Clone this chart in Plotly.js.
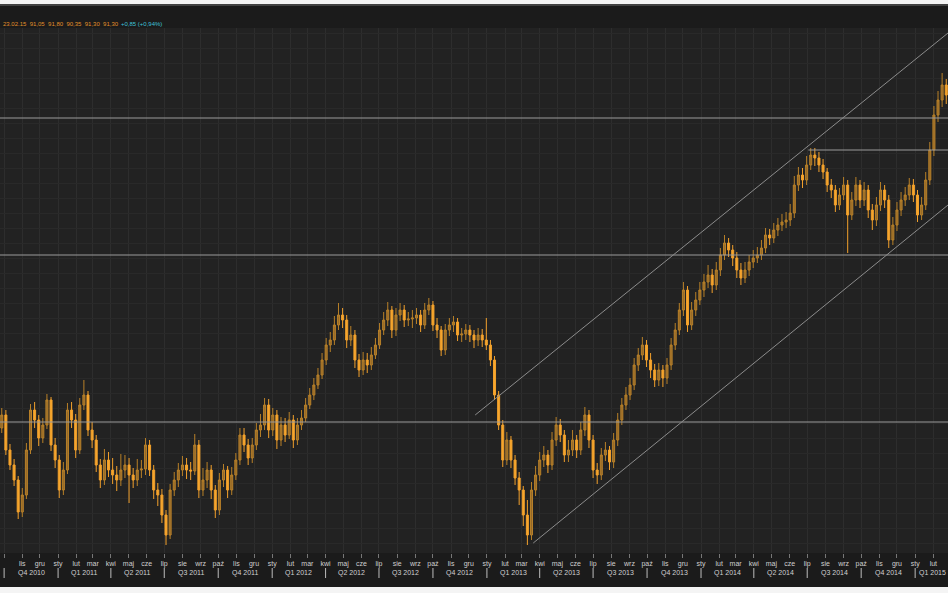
<!DOCTYPE html>
<html>
<head>
<meta charset="utf-8">
<script src="https://cdn.plot.ly/plotly-3.0.1.min.js"></script>
<style>
html,body{margin:0;padding:0;background:#1e1e1e;}
#chart{width:948px;height:593px;}
</style>
</head>
<body>
<div id="chart"></div>
<script>
// Weekly candles, first week starting 2010-09-27
const firstWeek = '2010-09-27';

const openVals = [
58.0,59.3,55.8,54.3,52.8,49.6,51.3,55.8,59.8,58.8,
57.0,58.3,60.8,56.3,54.8,51.8,53.8,59.8,58.8,55.8,
60.3,61.3,57.8,56.8,54.3,52.8,54.8,53.8,53.3,52.8,
53.8,54.3,53.3,52.8,53.8,53.9,56.3,53.8,51.8,51.3,
49.3,47.3,51.8,52.8,53.8,54.3,53.8,53.7,56.3,51.8,
52.8,53.8,51.8,49.8,52.8,53.8,51.8,53.3,54.8,57.3,
56.3,55.0,56.3,57.8,58.3,60.3,57.8,59.3,56.8,58.3,
57.3,58.8,56.8,58.3,59.0,60.3,61.3,62.3,63.3,64.8,
66.3,66.8,68.3,69.3,68.8,66.8,67.3,64.8,63.8,64.8,
64.3,65.3,66.3,67.8,68.8,69.8,67.8,69.3,69.8,68.8,
68.9,69.0,69.3,68.3,69.8,70.3,68.3,67.8,65.8,67.8,
68.3,68.6,67.3,67.4,67.8,67.3,66.8,67.3,66.8,66.3,
64.8,61.3,58.3,54.8,56.8,54.8,53.0,51.8,49.3,47.3,
51.8,53.3,54.8,55.3,54.3,56.8,58.3,57.3,55.3,55.8,
56.8,55.8,57.8,59.3,56.8,53.8,53.3,55.3,55.8,54.6,
56.8,58.8,60.3,61.3,62.3,64.3,65.3,66.3,64.8,63.8,
62.8,63.8,63.0,64.3,66.3,67.8,69.8,71.8,68.3,69.8,
70.8,71.8,72.6,73.3,72.3,73.8,75.3,76.5,75.8,75.0,
73.8,73.0,73.8,74.6,75.0,75.3,76.0,77.3,77.0,77.8,
78.3,78.6,78.8,79.5,82.3,83.3,82.8,84.3,85.3,85.0,
84.3,83.6,82.3,81.8,80.3,81.3,82.3,79.3,80.8,82.3,
80.8,81.8,79.8,78.8,80.3,81.8,80.8,76.8,78.3,79.8,
80.8,81.3,82.3,81.3,79.3,80.3,82.8,85.8,89.3,90.8,
92.3];

const closeVals = [
59.3,55.8,54.3,52.8,49.6,51.3,55.8,59.8,58.8,57.0,
58.3,60.8,56.3,54.8,51.8,53.8,59.8,58.8,55.8,60.3,
61.3,57.8,56.8,54.3,52.8,54.8,53.8,53.3,52.8,53.8,
54.3,53.3,52.8,53.8,53.9,56.3,53.8,51.8,51.3,49.3,
47.3,51.8,52.8,53.8,54.3,53.8,53.7,56.3,51.8,52.8,
53.8,51.8,49.8,52.8,53.8,51.8,53.3,54.8,57.3,56.3,
55.0,56.3,57.8,58.3,60.3,57.8,59.3,56.8,58.3,57.3,
58.8,56.8,58.3,59.0,60.3,61.3,62.3,63.3,64.8,66.3,
66.8,68.3,69.3,68.8,66.8,67.3,64.8,63.8,64.8,64.3,
65.3,66.3,67.8,68.8,69.8,67.8,69.3,69.8,68.8,68.9,
69.0,69.3,68.3,69.8,70.3,68.3,67.8,65.8,67.8,68.3,
68.6,67.3,67.4,67.8,67.3,66.8,67.3,66.8,66.3,64.8,
61.3,58.3,54.8,56.8,54.8,53.0,51.8,49.3,47.3,51.8,
53.3,54.8,55.3,54.3,56.8,58.3,57.3,55.3,55.8,56.8,
55.8,57.8,59.3,56.8,53.8,53.3,55.3,55.8,54.6,56.8,
58.8,60.3,61.3,62.3,64.3,65.3,66.3,64.8,63.8,62.8,
63.8,63.0,64.3,66.3,67.8,69.8,71.8,68.3,69.8,70.8,
71.8,72.6,73.3,72.3,73.8,75.3,76.5,75.8,75.0,73.8,
73.0,73.8,74.6,75.0,75.3,76.0,77.3,77.0,77.8,78.3,
78.6,78.8,79.5,82.3,83.3,82.8,84.3,85.3,85.0,84.3,
83.6,82.3,81.8,80.3,81.3,82.3,79.3,80.8,82.3,80.8,
81.8,79.8,78.8,80.3,81.8,80.8,76.8,78.3,79.8,80.8,
81.3,82.3,81.3,79.3,80.3,82.8,85.8,89.3,90.8,92.3,
91.3];

const highVals = [
60.0,59.8,56.4,54.9,53.2,52.0,56.5,60.4,60.6,59.3,
59.0,61.4,61.1,57.0,55.3,54.6,60.5,60.6,59.4,61.0,
62.8,61.7,58.6,57.3,54.9,55.9,55.6,55.0,54.2,55.4,
55.3,55.0,54.0,54.9,54.8,57.0,56.8,54.3,52.5,51.9,
49.8,52.4,53.6,54.5,55.2,55.0,54.6,57.4,56.8,54.0,
54.6,54.3,52.3,53.5,54.4,54.2,54.1,55.5,58.0,58.0,
56.9,57.0,58.5,59.4,61.0,60.9,60.0,59.8,59.1,59.0,
59.6,59.3,59.0,59.8,61.0,62.0,63.0,64.0,65.5,67.0,
67.6,69.2,70.5,70.0,69.3,68.2,67.8,65.4,65.6,65.5,
66.1,67.0,68.5,69.6,70.6,70.2,70.0,70.5,70.3,69.6,
69.8,70.0,69.8,70.5,71.0,70.7,69.0,68.2,68.4,69.0,
69.2,69.0,68.0,68.4,68.3,67.8,68.0,67.9,69.0,66.8,
65.2,61.7,58.8,57.6,57.2,55.3,53.6,52.2,50.8,52.6,
54.2,55.6,56.2,55.8,57.6,59.1,58.9,57.8,56.8,57.8,
57.3,58.6,60.1,59.8,57.3,54.5,56.0,56.6,56.2,57.5,
59.5,61.0,62.1,63.0,65.0,66.0,67.1,66.8,65.5,64.4,
64.5,64.3,65.0,67.0,68.5,70.5,72.6,72.2,70.6,71.6,
72.6,73.4,74.3,73.9,74.6,76.0,77.3,77.0,76.3,75.6,
74.5,74.6,75.3,75.8,76.1,76.8,78.0,77.9,78.5,79.0,
79.4,79.6,80.4,83.2,84.1,84.0,85.2,86.0,86.0,85.6,
84.9,84.0,82.9,82.3,82.0,83.1,82.8,81.6,83.1,82.8,
82.6,82.3,80.4,81.1,82.6,82.3,81.3,79.1,80.6,81.6,
82.1,83.0,82.9,81.8,81.1,83.6,86.6,90.2,91.7,93.5,
92.9];

const lowVals = [
57.5,55.3,53.8,52.2,48.9,49.1,50.9,55.4,58.0,56.2,
56.5,57.9,55.7,54.0,51.0,51.3,53.4,58.0,55.0,55.4,
59.8,57.2,56.0,53.6,52.0,52.3,53.1,52.4,51.7,52.2,
53.0,50.5,52.0,52.2,53.0,53.3,53.2,50.9,50.2,48.5,
46.3,46.9,51.2,52.1,53.2,52.9,52.8,53.3,51.0,51.2,
52.0,50.9,49.0,49.3,52.1,51.0,51.3,52.8,54.3,55.6,
54.3,54.5,55.8,57.1,57.8,57.0,57.2,55.9,56.2,56.6,
56.9,56.0,56.3,57.8,58.6,59.9,60.8,61.9,62.9,64.3,
65.6,66.3,67.8,68.0,66.0,66.2,64.0,63.1,63.3,63.5,
63.8,64.9,65.9,67.3,68.2,67.0,67.2,68.7,68.1,68.2,
68.0,68.4,67.6,67.9,69.3,67.7,67.0,65.2,65.3,67.2,
67.6,66.7,66.6,66.8,66.6,66.0,66.2,66.1,65.8,64.2,
60.8,57.8,54.1,54.3,54.0,52.3,50.3,48.2,46.3,46.8,
51.2,52.7,54.1,53.5,53.8,56.2,56.6,54.6,54.6,55.2,
55.0,55.3,57.2,56.0,53.0,52.4,52.8,54.7,53.8,54.0,
56.2,58.3,59.8,60.8,61.8,63.7,64.8,64.1,63.0,62.1,
62.2,62.1,62.4,63.8,65.8,67.3,69.2,67.6,67.8,69.2,
70.3,71.1,72.0,71.5,71.8,73.2,74.8,75.1,74.2,73.0,
72.3,72.5,73.2,74.0,74.5,74.8,75.5,76.3,76.5,77.2,
77.7,78.0,78.2,79.0,81.7,82.0,82.3,83.8,84.2,83.6,
82.9,81.6,81.0,79.6,79.8,80.8,75.5,78.8,80.2,80.0,
80.2,79.0,77.8,78.2,79.7,80.0,76.0,76.3,77.7,79.2,
80.2,80.8,80.6,78.6,78.8,79.8,82.3,85.2,88.6,90.1,
90.4];

// Polish month abbreviations and quarter labels for the time axis
const monthNames = ['sty','lut','mar','kwi','maj','cze','lip','sie','wrz','paź','lis','gru'];
const quarterLabels = ['Q4 2010','Q1 2011','Q2 2011','Q3 2011','Q4 2011','Q1 2012','Q2 2012','Q3 2012',
  'Q4 2012','Q1 2013','Q2 2013','Q3 2013','Q4 2013','Q1 2014','Q2 2014','Q3 2014','Q4 2014','Q1 2015'];
const quarterStarts = ['2010-10-01','2011-01-01','2011-04-01','2011-07-01','2011-10-01','2012-01-01','2012-04-01',
  '2012-07-01','2012-10-01','2013-01-01','2013-04-01','2013-07-01','2013-10-01','2014-01-01','2014-04-01',
  '2014-07-01','2014-10-01','2015-01-01','2015-04-01'];

// Drawn study lines (price levels and trend channel)
const levelLines = [89.0, 75.3, 58.6];
const shortLevel = {from: '2014-07-03', value: 85.8};
const channelUpper = {x0: '2012-12-12', y0: 59.3, x1: '2015-02-26', y1: 97.5};
const channelLower = {x0: '2013-03-21', y0: 46.5, x1: '2015-02-26', y1: 80.3};

const headerText = '23.02.15  91,05  91,80  90,35  91,30  91,30';
const headerChange = '+0,85 (+0,94%)';

// ---- build ----
const dates = [];
const t0 = Date.parse(firstWeek + 'T00:00:00Z');
for (let i = 0; i < closeVals.length; i++) {
  dates.push(new Date(t0 + i * 7 * 86400000).toISOString().slice(0, 10));
}

const monthTicks = [], monthText = [];
for (let y = 2010; y <= 2015; y++) {
  for (let m = 0; m < 12; m++) {
    const d = new Date(Date.UTC(y, m, 1));
    if (d < new Date(Date.UTC(2010, 9, 1)) || d > new Date(Date.UTC(2015, 1, 1))) continue;
    monthTicks.push(d.toISOString().slice(0, 10));
    monthText.push(monthNames[m]);
  }
}

const plotTop = 28, plotBottom = 553, H = 593;
const ph = plotBottom - plotTop;
const py = p => (plotBottom - p) / ph; // pixel -> paper y

const annotations = [];
const shapes = [];
for (let q = 0; q < quarterLabels.length; q++) {
  const a = Date.parse(quarterStarts[q]), b = Date.parse(quarterStarts[q + 1]);
  const mid = new Date((a + b) / 2).toISOString().slice(0, 10);
  const last = q === quarterLabels.length - 1;
  annotations.push({x: last ? 1 : mid, xref: last ? 'paper' : 'x', xanchor: last ? 'right' : 'center',
    y: py(573), yref: 'paper', text: quarterLabels[q],
    showarrow: false, font: {size: 7, color: '#d0d0d0', family: 'Liberation Sans, Arial'}, yanchor: 'middle'});
  shapes.push({type: 'line', xref: 'x', yref: 'paper', x0: quarterStarts[q], x1: quarterStarts[q],
    y0: py(568), y1: py(578), line: {color: '#bdbdbd', width: 1}});
}
annotations.push({x: 0.001, xref: 'paper', y: py(19), yref: 'paper', xanchor: 'left', text: headerText,
  showarrow: false, font: {size: 6, color: '#e0902a', family: 'Liberation Sans, Arial'}});
annotations.push({x: 0.125, xref: 'paper', y: py(19), yref: 'paper', xanchor: 'left', text: headerChange,
  showarrow: false, font: {size: 6, color: '#3fc0d8', family: 'Liberation Sans, Arial'}});

levelLines.forEach(v => shapes.push({type: 'line', xref: 'paper', yref: 'y', x0: 0, x1: 1, y0: v, y1: v,
  line: {color: '#9a9a9a', width: 1}}));
shapes.push({type: 'line', xref: 'x', yref: 'y', x0: shortLevel.from, x1: '2015-03-10',
  y0: shortLevel.value, y1: shortLevel.value, line: {color: '#9a9a9a', width: 1}});
[channelUpper, channelLower].forEach(c => shapes.push({type: 'line', xref: 'x', yref: 'y',
  x0: c.x0, y0: c.y0, x1: c.x1, y1: c.y1, line: {color: '#8c8c8c', width: 1}}));
// frame strips (top and bottom light borders, header separator)
shapes.push({type: 'rect', xref: 'paper', yref: 'paper', x0: -0.01, x1: 1.01, y0: py(4), y1: py(-2),
  fillcolor: '#f4f4f4', line: {width: 0}, layer: 'above'});
shapes.push({type: 'line', xref: 'paper', yref: 'paper', x0: 0, x1: 1, y0: py(5), y1: py(5),
  line: {color: '#6a6a6a', width: 1}});
shapes.push({type: 'rect', xref: 'paper', yref: 'paper', x0: -0.01, x1: 1.01, y0: py(596), y1: py(587),
  fillcolor: '#f4f4f4', line: {width: 0}, layer: 'above'});

const trace = {
  type: 'candlestick', x: dates, open: openVals, high: highVals, low: lowVals, close: closeVals,
  increasing: {line: {color: '#b88028', width: 1}, fillcolor: '#95692a'},
  decreasing: {line: {color: '#f2a02c', width: 1}, fillcolor: '#f7a82e'},
  whiskerwidth: 0, showlegend: false, hoverinfo: 'none'
};

const layout = {
  width: 948, height: H,
  margin: {l: 0, r: 0, t: plotTop, b: H - plotBottom, pad: 0},
  paper_bgcolor: '#1b1b1b', plot_bgcolor: '#222222',
  showlegend: false,
  xaxis: {type: 'date', range: ['2010-09-24', '2015-02-26'], rangeslider: {visible: false},
    tickvals: monthTicks, ticktext: monthText, ticks: 'outside', ticklen: 4, tickcolor: '#777',
    tickfont: {size: 7, color: '#cfcfcf', family: 'Liberation Sans, Arial'},
    showgrid: true, gridcolor: '#2d2d2d', gridwidth: 1, zeroline: false, showline: false, fixedrange: true},
  yaxis: {range: [45.5, 98.0], showticklabels: false, ticks: '', dtick: 1.5,
    showgrid: true, gridcolor: '#292929', zeroline: false, showline: false, fixedrange: true},
  shapes: shapes, annotations: annotations
};

Plotly.newPlot('chart', [trace], layout, {staticPlot: true, displayModeBar: false});
</script>
</body>
</html>
